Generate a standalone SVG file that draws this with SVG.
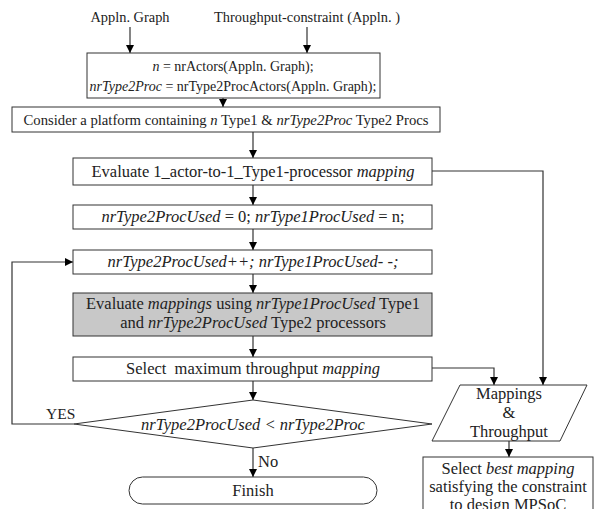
<svg xmlns="http://www.w3.org/2000/svg" width="594" height="509" viewBox="0 0 594 509">
<defs>
<marker id="ah" markerWidth="8" markerHeight="8" refX="8" refY="4" orient="auto" markerUnits="userSpaceOnUse">
<path d="M0,0 L8,4 L0,8 Z" fill="#000"/>
</marker>
<style>
text{font-family:"Liberation Serif","Times New Roman",serif;font-size:16.5px;fill:#222;text-anchor:middle}
.s{font-size:14.4px}
.t{font-size:14px}
.m{font-size:14.7px}
.i{font-style:italic}
.b{fill:#fff;stroke:#333;stroke-width:1}
.g{fill:#c8c8c8;stroke:#333;stroke-width:1}
.c{fill:none;stroke:#333;stroke-width:1.2;marker-end:url(#ah)}
</style>
</defs>
<rect width="594" height="509" fill="#fff"/>
<g id="in1"><text class="s" x="130" y="22">Appln. Graph</text></g>
<g id="in2"><text class="s" x="307" y="22">Throughput-constraint (Appln. )</text></g>
<g id="connectors">
<path class="c" d="M130,27 V53"/>
<path class="c" d="M307,27 V53"/>
<path class="c" d="M223,98 V107"/>
<path class="c" d="M253,132 V158"/>
<path class="c" d="M253,185 V205"/>
<path class="c" d="M253,229 V250"/>
<path class="c" d="M253,274 V293"/>
<path class="c" d="M253,336 V357"/>
<path class="c" d="M253,381 V400"/>
<path class="c" d="M253,448 V477"/>
<path class="c" d="M74,424 H12 V262 H73"/>
<path class="c" d="M432,171 H543 V385"/>
<path class="c" d="M432,368 H494 V385"/>
<path class="c" d="M509,441 V457"/>
<text x="46" y="419" style="text-anchor:start;font-size:15.5px">YES</text>
<text x="258" y="467" style="text-anchor:start">No</text>
</g>
<g id="n1"><rect class="b" x="87" y="53" width="293" height="45"/>
<text class="t" x="233" y="71"><tspan class="i">n</tspan> = nrActors(Appln. Graph);</text>
<text class="t" x="233" y="91"><tspan class="i">nrType2Proc</tspan> = nrType2ProcActors(Appln. Graph);</text></g>
<g id="n2"><rect class="b" x="12" y="107" width="428" height="25"/>
<text class="m" x="226" y="125">Consider a platform containing <tspan class="i">n</tspan> Type1 &amp; <tspan class="i">nrType2Proc</tspan> Type2 Procs</text></g>
<g id="n3"><rect class="b" x="73" y="158" width="359" height="27"/>
<text x="253" y="177">Evaluate 1_actor-to-1_Type1-processor <tspan class="i">mapping</tspan></text></g>
<g id="n4"><rect class="b" x="73" y="205" width="359" height="24"/>
<text x="253" y="222"><tspan class="i">nrType2ProcUsed</tspan> = 0; <tspan class="i">nrType1ProcUsed</tspan> = n;</text></g>
<g id="n5"><rect class="b" x="73" y="250" width="359" height="24"/>
<text x="253" y="267" class="i">nrType2ProcUsed++; nrType1ProcUsed- -;</text></g>
<g id="n6"><rect class="g" x="73" y="293" width="359" height="43"/>
<text x="253" y="309">Evaluate <tspan class="i">mappings</tspan> using <tspan class="i">nrType1ProcUsed</tspan> Type1</text>
<text x="253" y="328">and <tspan class="i">nrType2ProcUsed</tspan> Type2 processors</text></g>
<g id="n7"><rect class="b" x="73" y="357" width="359" height="24"/>
<text x="253" y="374" xml:space="preserve">Select  maximum throughput <tspan class="i">mapping</tspan></text></g>
<g id="n8"><polygon class="b" points="74,424 253,400 432,424 253,448"/>
<text x="253" y="430" class="i">nrType2ProcUsed &lt; nrType2Proc</text></g>
<g id="n9"><rect class="b" x="129" y="477" width="248" height="27" rx="13.5"/>
<text x="253" y="496">Finish</text></g>
<g id="n10"><polygon class="b" points="460,385 587,385 560,441 432,441"/>
<text x="509" y="399">Mappings</text>
<text x="509" y="418">&amp;</text>
<text x="509" y="437">Throughput</text></g>
<g id="n11"><rect class="b" x="423" y="457" width="170" height="70"/>
<text x="508" y="474">Select <tspan class="i">best mapping</tspan></text>
<text x="508" y="492">satisfying the constraint</text>
<text x="508" y="510">to design MPSoC</text></g>
</svg>
